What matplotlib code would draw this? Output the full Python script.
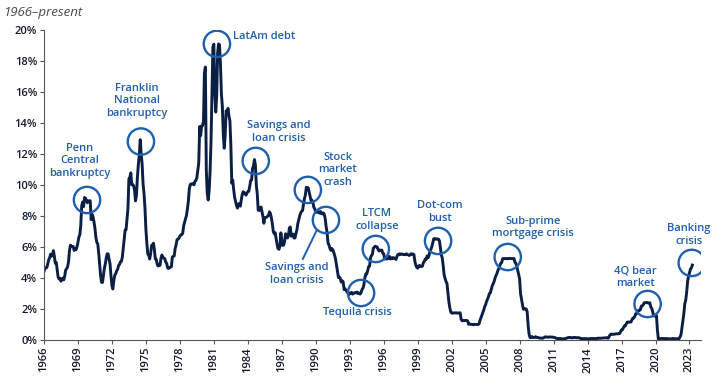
import numpy as np
import matplotlib
matplotlib.use("Agg")
import matplotlib.pyplot as plt

# effective fed funds rate, monthly, Jan 1966 onward (%)
rates_1960s = [
    4.42, 4.60, 4.65, 4.67, 4.90, 5.17, 5.30, 5.53, 5.40, 5.53, 5.76, 5.40,
    4.94, 5.00, 4.53, 4.05, 3.94, 3.98, 3.79, 3.90, 3.99, 3.88, 4.13, 4.51,
    4.60, 4.71, 5.05, 5.76, 6.11, 6.07, 6.02, 6.03, 5.78, 5.91, 5.82, 6.02,
    6.30, 6.64, 6.79, 7.41, 8.67, 8.90, 8.61, 9.19, 9.15, 9.00, 8.85, 8.97,
]
rates_1970s = [
    8.98, 8.98, 7.76, 8.10, 7.95, 7.61, 7.21, 6.61, 6.29, 6.20, 5.60, 4.90,
    4.14, 3.72, 3.71, 4.16, 4.63, 4.91, 5.31, 5.56, 5.55, 5.20, 4.91, 4.14,
    3.50, 3.29, 3.83, 4.17, 4.27, 4.46, 4.55, 4.80, 4.87, 5.04, 5.06, 5.33,
    5.94, 6.58, 7.09, 7.12, 7.84, 8.49, 10.40, 10.50, 10.78, 10.01, 10.03, 9.95,
    9.65, 8.97, 9.35, 10.51, 11.31, 11.93, 12.92, 12.01, 11.34, 10.06, 9.45, 8.53,
    7.13, 6.24, 5.54, 5.49, 5.22, 5.55, 6.10, 6.14, 6.24, 5.82, 5.22, 5.20,
    4.87, 4.77, 4.84, 4.82, 5.29, 5.48, 5.31, 5.29, 5.25, 5.02, 4.95, 4.65,
    4.61, 4.68, 4.69, 4.73, 5.35, 5.39, 5.42, 5.90, 6.14, 6.47, 6.51, 6.56,
    6.70, 6.78, 6.79, 6.89, 7.36, 7.60, 7.81, 8.04, 8.45, 8.96, 9.76, 10.03,
    10.07, 10.06, 10.09, 10.01, 10.24, 10.29, 10.47, 10.94, 11.43, 13.77, 13.18, 13.78,
]
rates_1980s = [
    13.82, 14.13, 17.19, 17.61, 10.98, 9.47, 9.03, 9.61, 10.87, 12.81, 15.85, 18.90,
    19.08, 15.93, 14.70, 15.72, 18.52, 19.10, 19.04, 17.82, 15.87, 15.08, 13.31, 12.37,
    13.22, 14.78, 14.68, 14.94, 14.45, 14.15, 12.59, 10.12, 10.31, 9.71, 9.20, 8.95,
    8.68, 8.51, 8.77, 8.80, 8.63, 8.98, 9.37, 9.56, 9.45, 9.48, 9.34, 9.47,
    9.56, 9.59, 9.91, 10.29, 10.32, 11.06, 11.23, 11.64, 11.30, 9.99, 9.43, 8.38,
    8.35, 8.50, 8.58, 8.27, 7.97, 7.53, 7.88, 7.90, 7.92, 7.99, 8.05, 8.27,
    8.14, 7.86, 7.48, 6.99, 6.85, 6.92, 6.56, 6.17, 5.89, 5.85, 6.04, 6.91,
    6.43, 6.10, 6.13, 6.37, 6.85, 6.73, 6.58, 6.73, 7.22, 7.29, 6.69, 6.77,
    6.83, 6.58, 6.58, 6.87, 7.09, 7.51, 7.75, 8.01, 8.19, 8.30, 8.35, 8.76,
    9.12, 9.36, 9.85, 9.84, 9.81, 9.53, 9.24, 8.99, 9.02, 8.84, 8.55, 8.45,
]
rates_1990s = [
    8.23, 8.24, 8.28, 8.26, 8.18, 8.29, 8.15, 8.13, 8.20, 8.11, 7.81, 7.31,
    6.91, 6.25, 6.12, 5.91, 5.78, 5.90, 5.82, 5.66, 5.45, 5.21, 4.81, 4.43,
    4.03, 4.06, 3.98, 3.73, 3.82, 3.76, 3.25, 3.30, 3.22, 3.10, 3.09, 2.92,
    3.02, 3.03, 3.07, 2.96, 3.00, 3.04, 3.06, 3.03, 3.09, 2.99, 3.02, 2.96,
    3.05, 3.25, 3.34, 3.56, 4.01, 4.25, 4.26, 4.47, 4.73, 4.76, 5.29, 5.45,
    5.53, 5.92, 5.98, 6.05, 6.01, 6.00, 5.85, 5.74, 5.80, 5.76, 5.80, 5.60,
    5.56, 5.22, 5.31, 5.22, 5.24, 5.27, 5.40, 5.22, 5.30, 5.24, 5.31, 5.29,
    5.25, 5.19, 5.39, 5.51, 5.50, 5.56, 5.52, 5.54, 5.54, 5.50, 5.52, 5.50,
    5.56, 5.51, 5.49, 5.45, 5.49, 5.56, 5.54, 5.55, 5.51, 5.07, 4.83, 4.68,
    4.63, 4.76, 4.81, 4.74, 4.74, 4.76, 4.99, 5.07, 5.22, 5.20, 5.42, 5.30,
]
rates_2000s = [
    5.45, 5.73, 5.85, 6.02, 6.27, 6.53, 6.54, 6.50, 6.52, 6.51, 6.51, 6.40,
    5.98, 5.49, 5.31, 4.80, 4.21, 3.97, 3.77, 3.65, 3.07, 2.49, 2.09, 1.82,
    1.73, 1.74, 1.73, 1.75, 1.75, 1.75, 1.73, 1.74, 1.75, 1.75, 1.34, 1.24,
    1.24, 1.26, 1.25, 1.26, 1.26, 1.22, 1.01, 1.03, 1.01, 1.01, 1.00, 0.98,
    1.00, 1.01, 1.00, 1.00, 1.00, 1.03, 1.26, 1.43, 1.61, 1.76, 1.93, 2.16,
    2.28, 2.50, 2.63, 2.79, 3.00, 3.04, 3.26, 3.50, 3.62, 3.78, 4.00, 4.16,
    4.29, 4.49, 4.59, 4.79, 4.94, 4.99, 5.24, 5.25, 5.25, 5.25, 5.25, 5.24,
    5.25, 5.26, 5.26, 5.25, 5.25, 5.25, 5.26, 5.02, 4.94, 4.76, 4.49, 4.24,
    3.94, 2.98, 2.61, 2.28, 1.98, 2.00, 2.01, 2.00, 1.81, 0.97, 0.39, 0.16,
    0.15, 0.22, 0.18, 0.15, 0.18, 0.21, 0.16, 0.16, 0.15, 0.12, 0.12, 0.12,
]
rates_2010s = [
    0.11, 0.13, 0.16, 0.20, 0.20, 0.18, 0.18, 0.19, 0.19, 0.19, 0.19, 0.18,
    0.17, 0.16, 0.14, 0.10, 0.09, 0.09, 0.07, 0.10, 0.08, 0.07, 0.08, 0.07,
    0.08, 0.10, 0.13, 0.14, 0.16, 0.16, 0.16, 0.13, 0.14, 0.16, 0.16, 0.16,
    0.14, 0.15, 0.14, 0.15, 0.11, 0.09, 0.09, 0.08, 0.08, 0.09, 0.08, 0.09,
    0.07, 0.07, 0.08, 0.09, 0.09, 0.10, 0.09, 0.09, 0.09, 0.09, 0.09, 0.12,
    0.11, 0.11, 0.11, 0.12, 0.12, 0.13, 0.13, 0.14, 0.14, 0.12, 0.12, 0.24,
    0.34, 0.38, 0.36, 0.37, 0.37, 0.38, 0.39, 0.40, 0.40, 0.40, 0.41, 0.54,
    0.65, 0.66, 0.79, 0.90, 0.91, 1.04, 1.15, 1.16, 1.15, 1.15, 1.16, 1.30,
    1.41, 1.42, 1.51, 1.69, 1.70, 1.82, 1.91, 1.91, 1.95, 2.19, 2.20, 2.27,
    2.40, 2.40, 2.41, 2.42, 2.39, 2.38, 2.40, 2.13, 2.04, 1.83, 1.55, 1.55,
]
rates_2020s = [
    1.55, 1.58, 0.65, 0.05, 0.05, 0.08, 0.09, 0.10, 0.09, 0.09, 0.09, 0.09,
    0.09, 0.08, 0.07, 0.07, 0.06, 0.08, 0.10, 0.09, 0.08, 0.08, 0.08, 0.08,
    0.08, 0.08, 0.20, 0.33, 0.77, 1.21, 1.68, 2.33, 2.56, 3.08, 3.78, 4.10,
    4.33, 4.57, 4.65, 4.83,
]

# crisis markers: label, circle (year, level), label (year, level)
event_labels = [
    "Penn\nCentral\nbankruptcy", "Franklin\nNational\nbankruptcy", "LatAm debt",
    "Savings and\nloan crisis", "Stock\nmarket\ncrash", "Savings and\nloan crisis",
    "Tequila crisis", "LTCM\ncollapse", "Dot-com\nbust",
    "Sub-prime\nmortgage crisis", "4Q bear\nmarket", "Banking\ncrisis",
]
event_years = [1969.8, 1974.56, 1981.27, 1984.7, 1989.3, 1990.9,
               1994.0, 1995.3, 2000.8, 2006.95, 2019.3, 2023.2]
event_levels = [9.03, 12.8, 19.1, 11.55, 9.68, 7.74,
                3.03, 5.87, 6.39, 5.35, 2.32, 4.97]
label_years = [1969.18, 1974.2, 1982.68, 1986.74, 1991.95, 1988.33,
               1993.63, 1995.39, 2000.95, 2009.16, 2018.25, 2022.93]
label_levels = [11.55, 15.42, 19.6, 13.42, 10.97, 4.26,
                1.74, 7.74, 8.26, 7.23, 4.06, 6.77]

tick_years = list(range(1966, 2024, 3))
y_ticks = [0, 2, 4, 6, 8, 10, 12, 14, 16, 18, 20]

NAVY = "#0b1f45"
BLUE = "#1f5fae"


def main():
    rates = np.array(rates_1960s + rates_1970s + rates_1980s + rates_1990s
                     + rates_2000s + rates_2010s + rates_2020s)
    years = 1966 + np.arange(len(rates)) / 12

    fig = plt.figure(figsize=(7.21, 3.79), dpi=100)
    ax = fig.add_axes([0.061, 0.103, 0.911, 0.818])

    ax.plot(years, rates, color=NAVY, lw=2.1, solid_joinstyle="round")

    ax.scatter(event_years, event_levels, s=360, facecolors="none",
               edgecolors=BLUE, linewidths=1.7, zorder=3)

    for i, text in enumerate(event_labels):
        ha = "left" if text == "LatAm debt" else "center"
        ax.text(label_years[i], label_levels[i], text, ha=ha, va="center",
                color=BLUE, fontsize=8, fontweight="semibold",
                family="Open Sans", linespacing=1.15)

    # leader line for the second savings and loan circle
    ax.plot([1990.1, 1988.86], [7.1, 5.23], color=BLUE, lw=1.4)

    ax.set_xlim(1966, 2024)
    ax.set_ylim(0, 20)
    ax.set_xticks(tick_years)
    ax.set_xticklabels([str(y) for y in tick_years], rotation=90)
    ax.set_yticks(y_ticks)
    ax.set_yticklabels([f"{v}%" for v in y_ticks])

    for side in ["top", "right"]:
        ax.spines[side].set_visible(False)
    for side in ["left", "bottom"]:
        ax.spines[side].set_color("#555555")
        ax.spines[side].set_linewidth(0.8)
    ax.tick_params(length=3, width=0.8, color="#555555", labelsize=8,
                   labelcolor="#141a2e", pad=2)
    for lbl in ax.get_xticklabels() + ax.get_yticklabels():
        lbl.set_fontfamily("Open Sans")
        lbl.set_fontweight("semibold")

    fig.text(0.004, 0.985, "1966\u2013present", ha="left", va="top",
             fontsize=9.5, style="italic", color="#4a4a4a", family="Open Sans")

    fig.savefig("out.png", dpi=100)


if __name__ == '__main__':
    main()
